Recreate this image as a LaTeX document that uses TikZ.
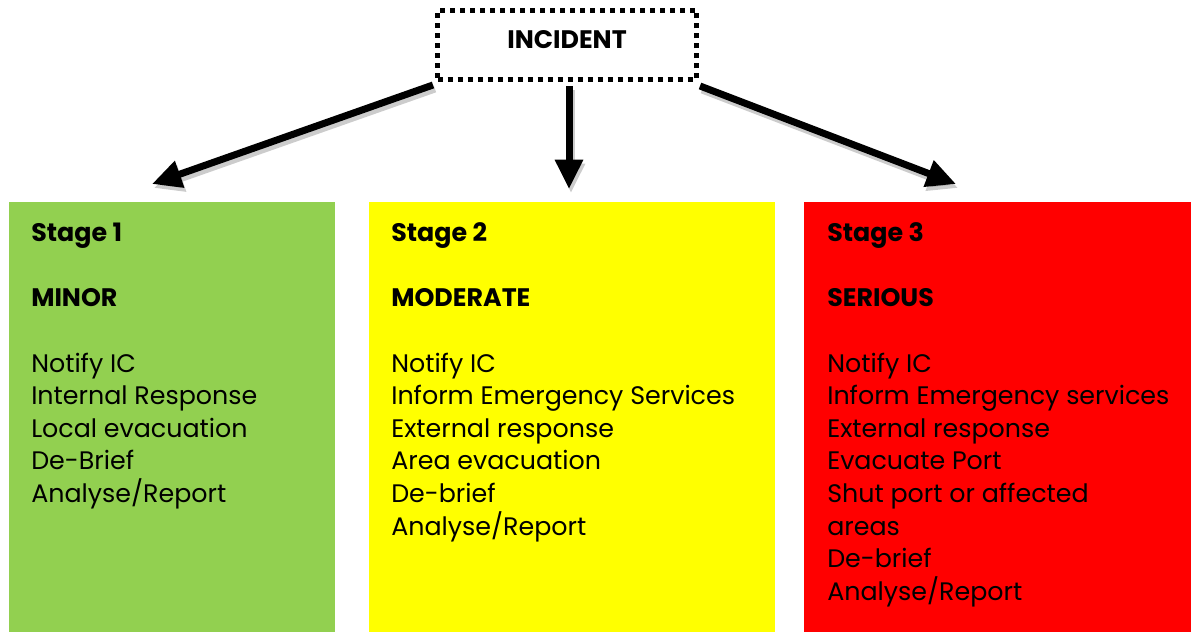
\documentclass[tikz,border=0pt]{standalone}
\usepackage{fontspec}
\setmainfont{Poppins}
\usetikzlibrary{arrows.meta}
\definecolor{stgreen}{HTML}{92D050}
\definecolor{styellow}{HTML}{FFFF00}
\definecolor{stred}{HTML}{FF0000}
\tikzset{
  stagebox/.style={anchor=north west, inner sep=0pt, outer sep=0pt, draw=none},
  bodytxt/.style={anchor=base west, inner sep=0pt, font=\fontsize{19pt}{24pt}\selectfont},
  headtxt/.style={anchor=base west, inner sep=0pt, font=\fontsize{19pt}{24pt}\selectfont\bfseries},
  arr/.style={line width=5.25pt, -{Triangle[length=22pt,width=20pt]}},
  arrshadow/.style={arr, draw=black, opacity=0.2}
}
\begin{document}
\begin{tikzpicture}[x=0.75pt,y=-0.75pt]
\useasboundingbox (0,0) rectangle (1191,634);
% incident box
\node[draw, line width=3.75pt, dash pattern=on 3.75pt off 3.75pt,
      minimum width=259*0.75pt, minimum height=69*0.75pt, inner sep=0pt] (inc) at (567,45) {};
\node[anchor=base, inner sep=0pt, font=\fontsize{19pt}{24pt}\selectfont\bfseries] (inct) at (567,49) {INCIDENT};
% stage boxes
\node[stagebox, fill=stgreen, minimum width=326*0.75pt, minimum height=430*0.75pt] (b1) at (9,202) {};
\node[stagebox, fill=styellow, minimum width=406*0.75pt, minimum height=430*0.75pt] (b2) at (369,202) {};
\node[stagebox, fill=stred, minimum width=387*0.75pt, minimum height=430*0.75pt] (b3) at (804,202) {};
% arrow ends
\coordinate (t1) at (152,184);
\coordinate (t2) at (569,189);
\coordinate (t3) at (956,184);
\coordinate (s1) at (433,85);
\coordinate (s2) at (569,86);
\coordinate (s3) at (700,86);
\coordinate (t1s) at (154,188);
\coordinate (t2s) at (571,193);
\coordinate (t3s) at (958,188);
\coordinate (s1s) at (435,89);
\coordinate (s2s) at (571,90);
\coordinate (s3s) at (702,90);
% shadows
\draw[arrshadow] (s1s) -- (t1s);
\draw[arrshadow] (s2s) -- (t2s);
\draw[arrshadow] (s3s) -- (t3s);
% arrows
\draw[arr] (s1) -- (t1);
\draw[arr] (s2) -- (t2);
\draw[arr] (s3) -- (t3);
% stage 1
\node[headtxt] (h1a) at (31,242) {Stage 1};
\node[headtxt] (h1b) at (31,306) {MINOR};
\foreach \t [count=\i] in {Notify IC,Internal Response,Local evacuation,De-Brief,Analyse/Report}
  \node[bodytxt] (g\i) at (31,{372+32.6*(\i-1)}) {\t};
% stage 2
\node[headtxt] (h2a) at (391,242) {Stage 2};
\node[headtxt] (h2b) at (391,306) {MODERATE};
\foreach \t [count=\i] in {Notify IC,Inform Emergency Services,External response,Area evacuation,De-brief,Analyse/Report}
  \node[bodytxt] (y\i) at (391,{372+32.6*(\i-1)}) {\t};
% stage 3
\node[headtxt] (h3a) at (827,242) {Stage 3};
\node[headtxt] (h3b) at (827,306) {SERIOUS};
\foreach \t [count=\i] in {Notify IC,Inform Emergency services,External response,Evacuate Port,Shut port or affected,areas,De-brief,Analyse/Report}
  \node[bodytxt] (r\i) at (827,{372+32.6*(\i-1)}) {\t};
\end{tikzpicture}
\end{document}
